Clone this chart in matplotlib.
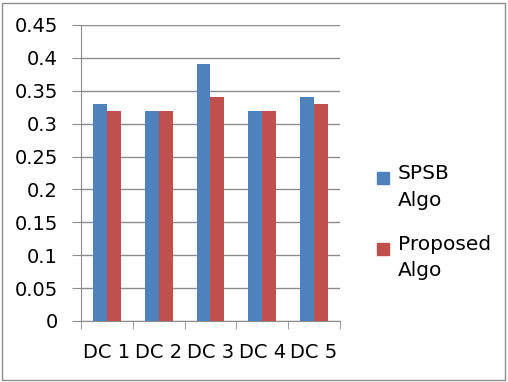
import numpy as np
import matplotlib
matplotlib.use("Agg")
import matplotlib.pyplot as plt
from matplotlib.patches import Rectangle

categories = ["DC 1", "DC 2", "DC 3", "DC 4", "DC 5"]
spsb = [0.33, 0.32, 0.39, 0.32, 0.34]
proposed = [0.32, 0.32, 0.34, 0.32, 0.33]
yticks = [0, 0.05, 0.1, 0.15, 0.2, 0.25, 0.3, 0.35, 0.4, 0.45]
ytick_labels = ["0", "0.05", "0.1", "0.15", "0.2", "0.25", "0.3", "0.35", "0.4", "0.45"]
series_names = ["SPSB\nAlgo", "Proposed\nAlgo"]
colors = ["#4F81BD", "#C0504D"]

plt.rcParams['font.family'] = ['DejaVu Sans']
fs = 14

fig = plt.figure(figsize=(5.08, 3.82), dpi=100)
ax = fig.add_axes([81 / 508, 1 - 321 / 382, 259 / 508, 296 / 382])

x = np.arange(len(categories))
w = 0.27
ax.bar(x - w / 2, spsb, w, color=colors[0], zorder=3)
ax.bar(x + w / 2, proposed, w, color=colors[1], zorder=3)

ax.set_xlim(-0.5, len(categories) - 0.5)
ax.set_ylim(0, 0.45)
ax.set_yticks(yticks)
ax.set_yticklabels(ytick_labels, fontsize=fs)
ax.yaxis.grid(True, color="#8c8c8c", linewidth=1, zorder=0)
ax.tick_params(axis="y", length=6.5, color="#8c8c8c", pad=10)

ax.set_xticks(x)
ax.set_xticklabels(categories, fontsize=fs)
ax.tick_params(axis="x", length=0, pad=16)
ax.set_xticks(np.arange(-0.5, len(categories)), minor=True)
ax.tick_params(axis="x", which="minor", length=6, color="#8c8c8c")

for side in ["top", "right"]:
    ax.spines[side].set_visible(False)
for side in ["left", "bottom"]:
    ax.spines[side].set_color("#8c8c8c")

# legend drawn by hand: marker sits on the first line of each label
for i, (name, c) in enumerate(zip(series_names, colors)):
    ytop = 172 + i * 71
    fig.patches.append(Rectangle((377 / 508, 1 - (ytop + 12) / 382), 12 / 508, 12 / 382,
                                 transform=fig.transFigure, color=c))
    fig.text(398 / 508, 1 - (ytop - 8) / 382, name, fontsize=14.5, va="top",
             ha="left", linespacing=1.5)

fig.patches.append(Rectangle((2 / 508, 2 / 382), 503 / 508, 377 / 382,
                             transform=fig.transFigure, fill=False,
                             edgecolor="#8c8c8c", linewidth=1))

fig.savefig("out.png", dpi=100)
